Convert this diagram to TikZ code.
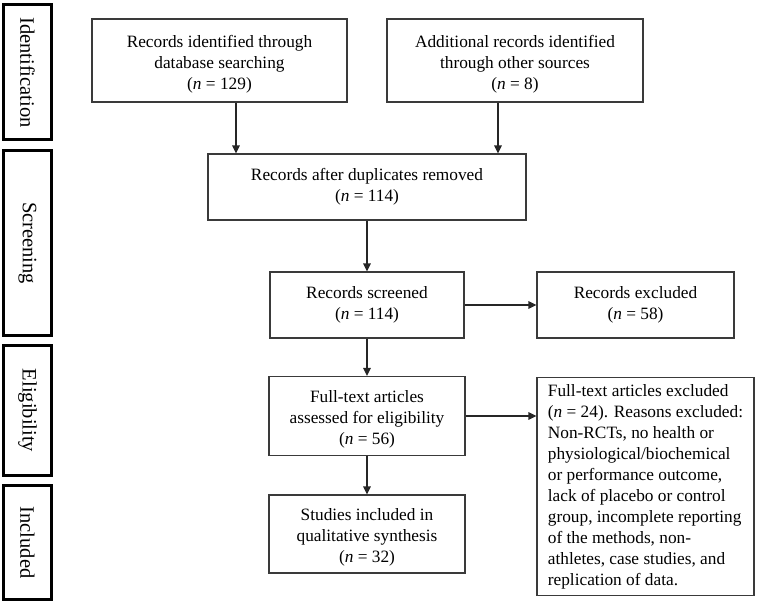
\documentclass[tikz,border=0pt]{standalone}
\usepackage{fontspec}
\setmainfont{Liberation Serif}
\usetikzlibrary{arrows.meta}
\definecolor{boxline}{HTML}{3A3A3A}
\newcommand{\firstgap}{\rule{0pt}{19pt}}
\tikzset{
  flowbox/.style={draw=boxline, line width=1.2pt, inner sep=0pt, align=center,
    font=\fontsize{17.3}{21}\selectfont, text=black},
  stagebox/.style={draw=black, line width=3pt},
  stagelabel/.style={rotate=-90, font=\fontsize{20.5}{24}\selectfont, text=black, inner sep=0pt},
  flowarrow/.style={draw=black!85, line width=1.5pt, -{Triangle[length=8pt,width=7.5pt]}}
}
\begin{document}
\begin{tikzpicture}[x=1pt,y=-1pt]
\useasboundingbox (0,0) rectangle (758,604);
% stage boxes
\draw[stagebox] (3.5,4.5) rectangle (51.5,140);
\draw[stagebox] (3.5,150.5) rectangle (51.5,335.5);
\draw[stagebox] (3.5,345.5) rectangle (51.5,475.5);
\draw[stagebox] (3.5,485.5) rectangle (51.5,599.5);
\node[stagelabel] (sid) at (27.5,72.5) {Identification};
\node[stagelabel] (ssc) at (27.5,243) {Screening};
\node[stagelabel] (sel) at (27.5,410.5) {Eligibility};
\node[stagelabel] (sin) at (27.5,542.5) {Included};
% flow boxes
\node[flowbox, minimum width=255pt, minimum height=83pt] (b1) at (219.5,60.5)
  {\firstgap Records identified through\\database searching\\(\textit{n} = 129)};
\node[flowbox, minimum width=256pt, minimum height=83pt] (b2) at (515,60.5)
  {\firstgap Additional records identified\\through other sources\\(\textit{n} = 8)};
\node[flowbox, minimum width=318pt, minimum height=66pt] (b3) at (367,187)
  {Records after duplicates removed\\(\textit{n} = 114)};
\node[flowbox, minimum width=194pt, minimum height=66pt] (b4) at (367,305)
  {Records screened\\(\textit{n} = 114)};
\node[flowbox, minimum width=197pt, minimum height=66pt] (b5) at (635.5,305)
  {Records excluded\\(\textit{n} = 58)};
\node[flowbox, minimum width=196pt, minimum height=79pt] (b6) at (367,416)
  {\firstgap Full-text articles\\assessed for eligibility\\(\textit{n} = 56)};
\node[flowbox, minimum width=217pt, minimum height=218pt, align=left] (b7) at (645.5,486.5)
  {Full-text articles excluded\\(\textit{n} = 24). Reasons excluded:\\Non-RCTs, no health or\\physiological/biochemical\\or performance outcome,\\lack of placebo or control\\group, incomplete reporting\\of the methods, non-\\athletes, case studies, and\\replication of data.};
\node[flowbox, minimum width=196pt, minimum height=78pt] (b8) at (367,534)
  {\firstgap Studies included in\\qualitative synthesis\\(\textit{n} = 32)};
% connectors
\coordinate (x1) at (236,0);
\coordinate (x2) at (498,0);
\draw[flowarrow] (b1.south -| x1) -- (b3.north -| x1);
\draw[flowarrow] (b2.south -| x2) -- (b3.north -| x2);
\draw[flowarrow] (b3.south) -- (b4.north);
\draw[flowarrow] (b4.east) -- (b5.west);
\draw[flowarrow] (b4.south) -- (b6.north);
\draw[flowarrow] (b6.east) -- (b6.east -| b7.west);
\draw[flowarrow] (b6.south) -- (b8.north);
\end{tikzpicture}
\end{document}
